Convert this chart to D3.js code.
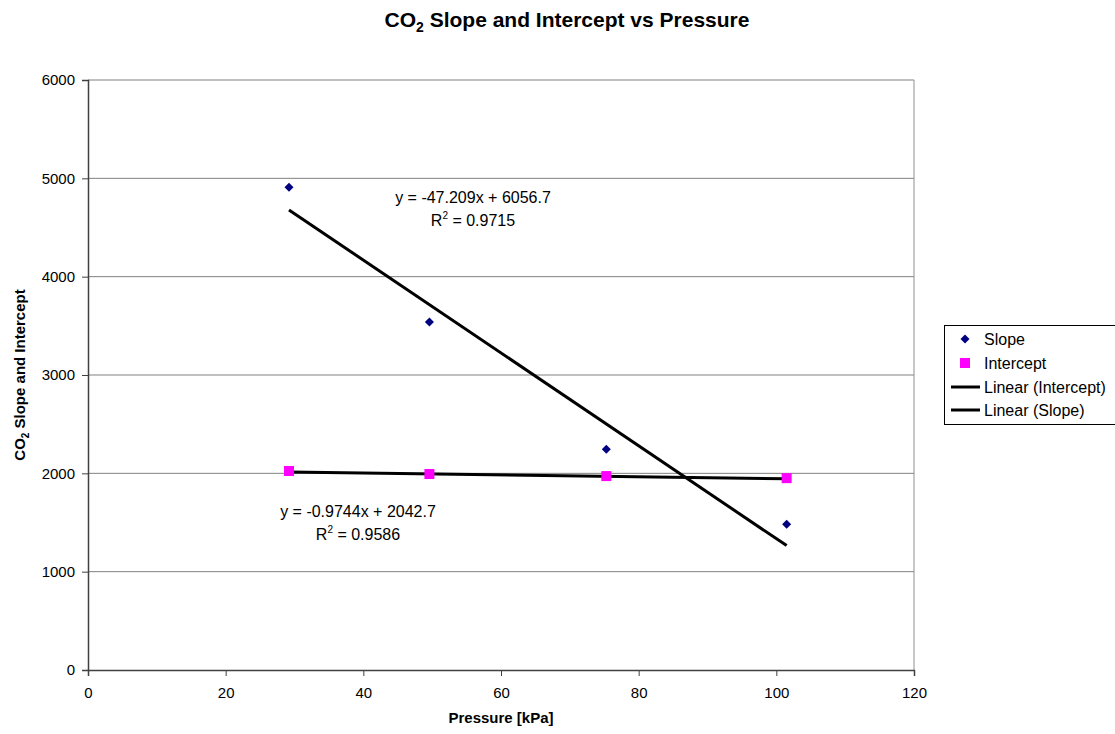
<!DOCTYPE html>
<html>
<head>
<meta charset="utf-8">
<script src="https://cdn.jsdelivr.net/npm/d3@7"></script>
<style>
  html, body { margin: 0; padding: 0; background: #fff; }
  svg { display: block; font-family: "Liberation Sans", Arial, sans-serif; }
</style>
</head>
<body>
<svg id="chart" width="1115" height="734"></svg>
<script>
// Pressure readings [kPa]
const pressure = [29.2, 49.6, 75.3, 101.5];
// CO2 calibration slope at each pressure
const slopeValues = [4909, 3540, 2245, 1482];
// CO2 calibration intercept at each pressure
const interceptValues = [2024, 1993, 1972, 1951];
// Least-squares fits shown on the chart
const slopeFit = { m: -47.209, b: 6056.7, r2: "0.9715" };
const interceptFit = { m: -0.9744, b: 2042.7, r2: "0.9586" };
const xTicks = [0, 20, 40, 60, 80, 100, 120];
const yTicks = [0, 1000, 2000, 3000, 4000, 5000, 6000];
const legendItems = ["Slope", "Intercept", "Linear (Intercept)", "Linear (Slope)"];

const svg = d3.select("#chart");
const plot = { left: 88, right: 914, top: 80, bottom: 670 };

const x = d3.scaleLinear().domain([0, 120]).range([plot.left, plot.right]);
const y = d3.scaleLinear().domain([0, 6000]).range([plot.bottom, plot.top]);

// Title
const title = svg.append("text")
  .attr("x", 567).attr("y", 27)
  .attr("text-anchor", "middle")
  .attr("font-size", 21).attr("font-weight", "bold");
title.append("tspan").text("CO");
title.append("tspan").attr("font-size", 14).attr("dy", 5).text("2");
title.append("tspan").attr("dy", -5).text(" Slope and Intercept vs Pressure");

// Horizontal gridlines
svg.append("g").selectAll("line")
  .data(yTicks.filter(d => d > 0))
  .join("line")
  .attr("x1", plot.left).attr("x2", plot.right)
  .attr("y1", d => y(d)).attr("y2", d => y(d))
  .attr("stroke", "#808080").attr("stroke-width", 1);

// Right border of the plot area
svg.append("line")
  .attr("x1", plot.right).attr("x2", plot.right)
  .attr("y1", plot.top).attr("y2", plot.bottom)
  .attr("stroke", "#909090").attr("stroke-width", 1);

// Axes
const xAxis = svg.append("g")
  .attr("transform", `translate(0,${plot.bottom})`)
  .call(d3.axisBottom(x).tickValues(xTicks).tickSize(6).tickPadding(11));
const yAxis = svg.append("g")
  .attr("transform", `translate(${plot.left},0)`)
  .call(d3.axisLeft(y).tickValues(yTicks).tickFormat(d3.format("d"))
    .tickSize(6).tickPadding(7));
[xAxis, yAxis].forEach(g => {
  g.select(".domain").attr("stroke", "#404040").attr("stroke-width", 1.5);
  g.selectAll(".tick line").attr("stroke", "#404040");
  g.selectAll(".tick text").attr("font-size", 15).attr("fill", "#000")
    .attr("font-family", "Liberation Sans, Arial, sans-serif");
});

// Axis titles
svg.append("text")
  .attr("x", x(60)).attr("y", 723)
  .attr("text-anchor", "middle")
  .attr("font-size", 15).attr("font-weight", "bold")
  .text("Pressure [kPa]");

const yTitle = svg.append("text")
  .attr("transform", `translate(25,${(plot.top + plot.bottom) / 2}) rotate(-90)`)
  .attr("text-anchor", "middle")
  .attr("font-size", 15).attr("font-weight", "bold");
yTitle.append("tspan").text("CO");
yTitle.append("tspan").attr("font-size", 10).attr("dy", 4).text("2");
yTitle.append("tspan").attr("dy", -4).text(" Slope and Intercept");

// Trendlines spanning the measured pressure range
const xMin = d3.min(pressure), xMax = d3.max(pressure);
const fitLine = f => [[xMin, f.m * xMin + f.b], [xMax, f.m * xMax + f.b]];
const lineGen = d3.line().x(d => x(d[0])).y(d => y(d[1]));
[slopeFit, interceptFit].forEach(f => {
  svg.append("path")
    .attr("d", lineGen(fitLine(f)))
    .attr("fill", "none").attr("stroke", "#000").attr("stroke-width", 3);
});

// Slope markers (navy diamonds)
const diamond = d3.symbol().type(d3.symbolDiamond2).size(52);
svg.append("g").selectAll("path")
  .data(pressure.map((p, i) => [p, slopeValues[i]]))
  .join("path")
  .attr("d", diamond)
  .attr("transform", d => `translate(${x(d[0])},${y(d[1])})`)
  .attr("fill", "#000080");

// Intercept markers (magenta squares)
svg.append("g").selectAll("rect")
  .data(pressure.map((p, i) => [p, interceptValues[i]]))
  .join("rect")
  .attr("x", d => x(d[0]) - 5).attr("y", d => y(d[1]) - 5)
  .attr("width", 10).attr("height", 10)
  .attr("fill", "#ff00ff");

// Trendline equations
function equationLabel(cx, cy, f) {
  const sign = f.b >= 0 ? "+" : "-";
  svg.append("text")
    .attr("x", cx).attr("y", cy)
    .attr("text-anchor", "middle").attr("font-size", 16)
    .text(`y = ${f.m}x ${sign} ${Math.abs(f.b)}`);
  const r = svg.append("text")
    .attr("x", cx).attr("y", cy + 23)
    .attr("text-anchor", "middle").attr("font-size", 16);
  r.append("tspan").text("R");
  r.append("tspan").attr("font-size", 10).attr("dy", -7).text("2");
  r.append("tspan").attr("dy", 7).text(` = ${f.r2}`);
}
equationLabel(473, 203, slopeFit);
equationLabel(358, 517, interceptFit);

// Legend
const legend = svg.append("g");
legend.append("rect")
  .attr("x", 944.5).attr("y", 325.5)
  .attr("width", 175).attr("height", 99)
  .attr("fill", "#fff").attr("stroke", "#000").attr("stroke-width", 1);
const rowY = [339, 363, 387, 410];
legendItems.forEach((name, i) => {
  const ry = rowY[i];
  if (i === 0) {
    legend.append("path").attr("d", diamond)
      .attr("transform", `translate(965,${ry})`).attr("fill", "#000080");
  } else if (i === 1) {
    legend.append("rect").attr("x", 960).attr("y", ry - 5)
      .attr("width", 10).attr("height", 10).attr("fill", "#ff00ff");
  } else {
    legend.append("line").attr("x1", 951).attr("x2", 980)
      .attr("y1", ry).attr("y2", ry)
      .attr("stroke", "#000").attr("stroke-width", 3);
  }
  legend.append("text").attr("x", 984).attr("y", ry + 5.5)
    .attr("font-size", 16).text(name);
});
</script>
</body>
</html>
